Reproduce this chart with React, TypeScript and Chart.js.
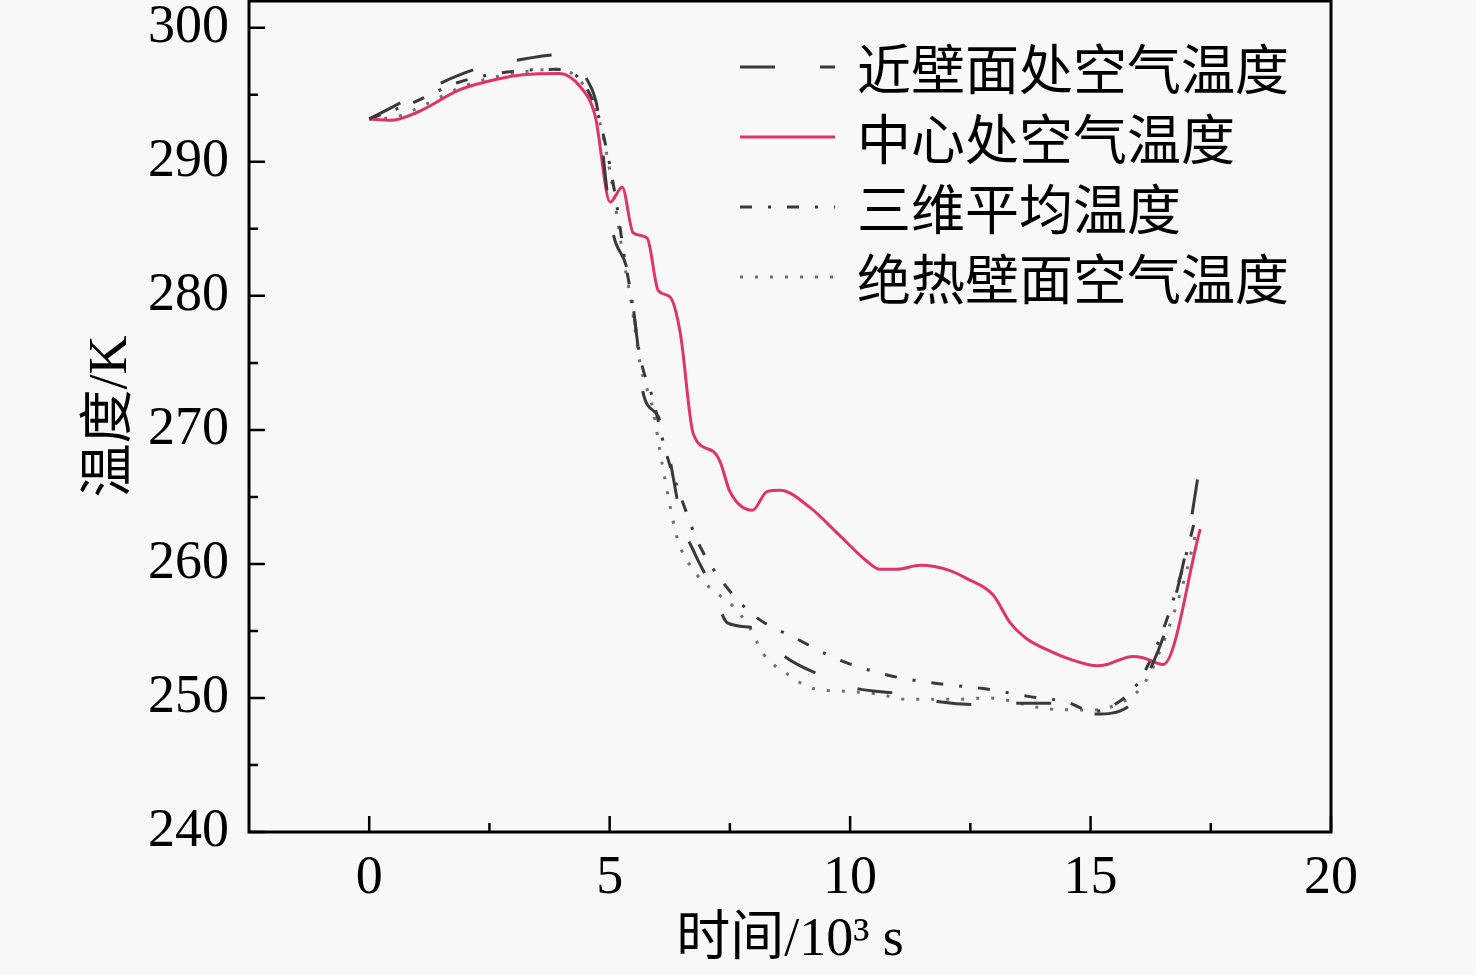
import { useEffect, useRef } from "react";
import { Chart, registerables } from "chart.js";
Chart.register(...registerables);

// ── Fonts / colours ──────────────────────────────────────────────────────────

const SERIF = '"Liberation Serif", "Noto Sans CJK SC", serif';
const CJK = '"Noto Sans CJK SC", "Liberation Serif", sans-serif';
const DARK = "#3a3a3a";
const PINK = "#e03468";
const DOT = "#707070";

// ── Data (time in 10³ s, temperature in K) ───────────────────────────────────

const LABELS = ["近壁面处空气温度", "中心处空气温度", "三维平均温度", "绝热壁面空气温度"];

const NEAR_T = [0, 1.5, 2.2, 3.1, 3.95, 4.55, 4.75, 4.95, 5.07, 5.38, 5.59, 5.68, 6.01, 6.2, 6.5, 6.78, 7.15, 7.45, 8.05, 8.6, 9.45, 10.15, 11.1, 11.9, 12.7, 13.5, 14.3, 15.1, 15.8, 16.25, 16.6, 16.95, 17.3];
const NEAR_K = [293.2, 295.9, 296.9, 297.6, 298.0, 296.0, 293.9, 287.7, 284.7, 281.7, 276.2, 273.0, 271.0, 268.7, 263.2, 260.7, 258.1, 255.6, 255.2, 253.2, 251.6, 250.7, 250.3, 249.7, 249.5, 249.6, 249.6, 248.8, 249.4, 252.2, 255.5, 260.4, 268.0];

const CENTER_T = [0, 0.45, 1.0, 1.9, 2.7, 3.2, 3.95, 4.39, 4.7, 5.01, 5.26, 5.49, 5.78, 6.01, 6.26, 6.47, 6.74, 7.15, 7.3, 7.5, 7.97, 8.27, 8.54, 9.17, 9.76, 10.35, 10.62, 10.98, 11.46, 12.08, 12.43, 12.97, 13.33, 13.68, 14.16, 14.57, 15.14, 15.34, 15.88, 16.09, 16.51, 17.28];
const CENTER_K = [293.2, 293.1, 293.7, 295.4, 296.2, 296.5, 296.6, 295.6, 293.4, 287.0, 288.1, 284.7, 284.3, 280.4, 279.9, 277.2, 269.7, 268.4, 267.6, 265.4, 264.0, 265.4, 265.5, 264.2, 262.2, 260.2, 259.6, 259.6, 259.9, 259.5, 258.9, 257.7, 255.6, 254.4, 253.5, 252.9, 252.4, 252.5, 253.1, 253.0, 252.5, 262.6];

const AVG_T = [0, 0.9, 1.83, 2.87, 3.87, 4.4, 4.75, 5.0, 5.16, 5.3, 5.45, 5.63, 5.9, 6.15, 6.51, 6.84, 7.36, 8.02, 8.9, 9.73, 10.79, 11.77, 12.77, 13.74, 14.5, 15.05, 15.5, 16.0, 16.5, 16.9, 17.15];
const AVG_K = [293.2, 294.4, 295.9, 296.7, 296.9, 296.1, 293.6, 289.8, 286.5, 283.0, 280.0, 275.5, 272.3, 268.6, 264.7, 261.6, 258.6, 256.1, 254.4, 252.9, 251.7, 251.1, 250.7, 250.1, 249.7, 249.0, 249.5, 251.2, 255.0, 259.5, 263.0];

const ADIA_T = [0, 0.5, 1.0, 2.0, 3.0, 3.9, 4.4, 4.75, 5.0, 5.15, 5.3, 5.45, 5.63, 5.9, 6.09, 6.4, 6.67, 7.09, 7.55, 7.92, 8.19, 8.69, 9.23, 9.94, 10.56, 11.19, 12.18, 12.85, 14.1, 15.0, 15.6, 16.1, 16.5, 17.0, 17.2];
const ADIA_K = [293.2, 293.3, 294.0, 295.7, 296.6, 296.9, 296.0, 293.5, 289.4, 286.0, 282.5, 279.5, 275.0, 271.5, 267.5, 262.0, 259.9, 258.2, 256.9, 255.2, 253.3, 251.8, 250.7, 250.5, 250.3, 249.9, 249.9, 250.0, 249.2, 249.1, 249.6, 251.0, 254.0, 259.5, 262.5];

const X_MAJOR = [0, 5, 10, 15, 20];
const X_MINOR = [2.5, 7.5, 12.5, 17.5];
const Y_MAJOR = [240, 250, 260, 270, 280, 290, 300];
const Y_MINOR = [245, 255, 265, 275, 285, 295];

const pts = (t: number[], k: number[]) => t.map((x, i) => ({ x, y: k[i] }));

// ── Plugins: inward ticks + box, legend inside plot ──────────────────────────

const frameTicks = {
  id: "frameTicks",
  afterDraw(chart: any) {
    const { ctx, chartArea: a, scales } = chart;
    const sx = scales.x, sy = scales.y;
    ctx.save();
    ctx.strokeStyle = "#000";
    ctx.lineWidth = 2.5;
    ctx.beginPath();
    X_MAJOR.forEach((v) => { const p = sx.getPixelForValue(v); ctx.moveTo(p, a.bottom); ctx.lineTo(p, a.bottom - 16); });
    X_MINOR.forEach((v) => { const p = sx.getPixelForValue(v); ctx.moveTo(p, a.bottom); ctx.lineTo(p, a.bottom - 9); });
    Y_MAJOR.forEach((v) => { const p = sy.getPixelForValue(v); ctx.moveTo(a.left, p); ctx.lineTo(a.left + 16, p); });
    Y_MINOR.forEach((v) => { const p = sy.getPixelForValue(v); ctx.moveTo(a.left, p); ctx.lineTo(a.left + 9, p); });
    ctx.stroke();
    ctx.lineWidth = 3;
    ctx.strokeRect(a.left, a.top, a.right - a.left, a.bottom - a.top);
    ctx.restore();
  },
};

const insideLegend = {
  id: "insideLegend",
  afterDraw(chart: any) {
    const { ctx } = chart;
    ctx.save();
    ctx.font = `54px ${CJK}`;
    ctx.textBaseline = "middle";
    ctx.fillStyle = "#000";
    chart.data.datasets.forEach((ds: any, i: number) => {
      const y = 67 + i * 70;
      ctx.strokeStyle = ds.borderColor;
      ctx.lineWidth = ds.borderWidth;
      ctx.setLineDash(ds.borderDash || []);
      ctx.beginPath();
      ctx.moveTo(740, y);
      ctx.lineTo(835, y);
      ctx.stroke();
      ctx.setLineDash([]);
      ctx.fillText(ds.label, 857, y + 2);
    });
    ctx.restore();
  },
};

// ── Chart ────────────────────────────────────────────────────────────────────

function TemperatureChart() {
  const ref = useRef<HTMLCanvasElement>(null);
  const chartRef = useRef<Chart | null>(null);

  useEffect(() => {
    if (!ref.current) return;
    chartRef.current?.destroy();

    const line = { pointRadius: 0, fill: false, cubicInterpolationMode: "monotone" as const };

    chartRef.current = new Chart(ref.current, {
      type: "line",
      data: {
        datasets: [
          { ...line, label: LABELS[0], data: pts(NEAR_T, NEAR_K), borderColor: DARK, borderWidth: 3, borderDash: [35, 45] },
          { ...line, label: LABELS[1], data: pts(CENTER_T, CENTER_K), borderColor: PINK, borderWidth: 3 },
          { ...line, label: LABELS[2], data: pts(AVG_T, AVG_K), borderColor: DARK, borderWidth: 3, borderDash: [12, 16, 3, 16] },
          { ...line, label: LABELS[3], data: pts(ADIA_T, ADIA_K), borderColor: DOT, borderWidth: 3, borderDash: [3, 12] },
        ],
      },
      options: {
        animation: false,
        responsive: true,
        maintainAspectRatio: false,
        events: [],
        layout: { autoPadding: false, padding: { left: 0, top: 1, right: 145, bottom: 0 } },
        plugins: { legend: { display: false }, tooltip: { enabled: false } },
        scales: {
          x: {
            type: "linear",
            min: -2.5,
            max: 20,
            afterBuildTicks: (s: any) => { s.ticks = X_MAJOR.map((value) => ({ value })); },
            afterFit: (s: any) => { s.height = 143; s.paddingLeft = 0; s.paddingRight = 0; },
            grid: { display: false },
            border: { display: false },
            ticks: { color: "#000", padding: 6, maxRotation: 0, font: { family: SERIF, size: 54 } },
            title: {
              display: true,
              text: "时间/10³ s",
              color: "#000",
              font: { family: SERIF, size: 54 },
              padding: { top: 0, bottom: 2 },
            },
          },
          y: {
            min: 240,
            max: 302,
            afterBuildTicks: (s: any) => { s.ticks = Y_MAJOR.map((value) => ({ value })); },
            afterFit: (s: any) => { s.width = 249; s.paddingTop = 0; s.paddingBottom = 0; },
            grid: { display: false },
            border: { display: false },
            ticks: { color: "#000", padding: 12, font: { family: SERIF, size: 54 } },
            title: {
              display: true,
              text: "温度/K",
              color: "#000",
              font: { family: SERIF, size: 54 },
              padding: { top: 79, bottom: 0 },
            },
          },
        },
      },
      plugins: [frameTicks, insideLegend],
    });

    return () => chartRef.current?.destroy();
  }, []);

  return <canvas ref={ref} />;
}

export default function App() {
  return (
    <div style={{ position: "absolute", left: 0, top: 0, width: 1476, height: 975, background: "#f8f8f8" }}>
      <TemperatureChart />
    </div>
  );
}
